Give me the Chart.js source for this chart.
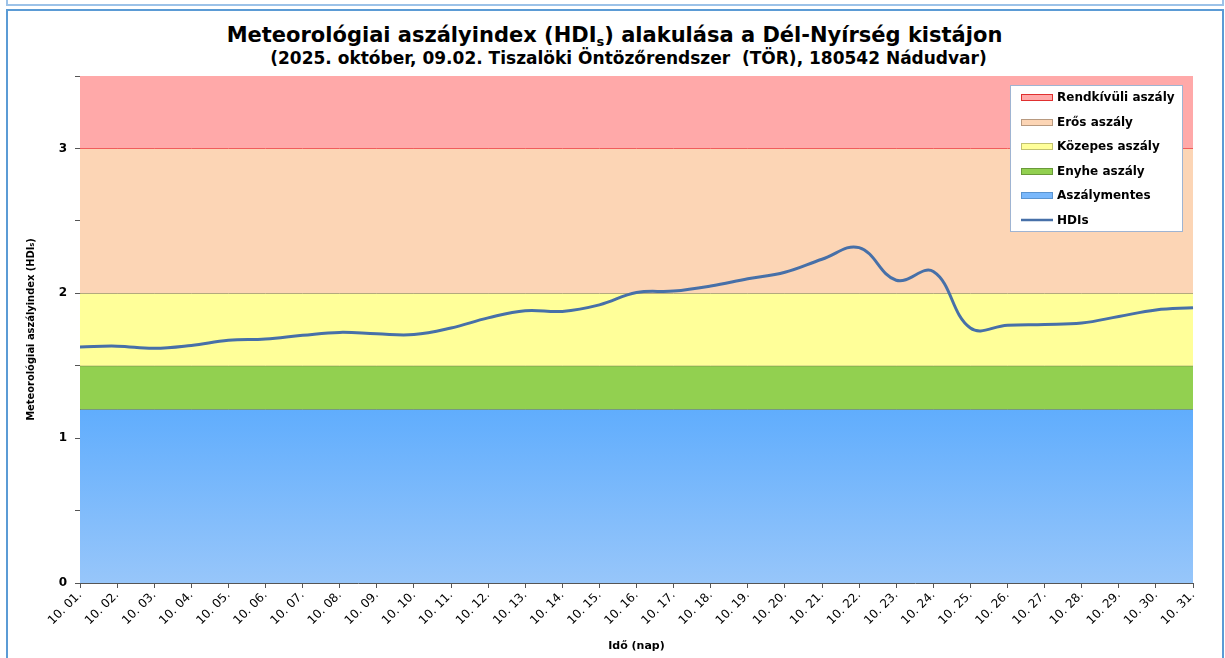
<!DOCTYPE html>
<html>
<head>
<meta charset="utf-8">
<script src="https://cdn.jsdelivr.net/npm/chart.js@4"></script>
<style>
  html, body { margin: 0; padding: 0; background: #fff; }
  body { width: 1225px; height: 658px; position: relative; overflow: hidden; }
  #prevBox { position: absolute; left: 6px; top: -20px; width: 1214px; height: 24px; border: 2px solid #9cc2e8; border-top: none; }
  #box { position: absolute; left: 6px; top: 9px; width: 1214px; height: 700px; border: 2px solid #5b9bd5; }
  #title, #subtitle { position: absolute; left: 0; width: 1225px; text-align: center; font-family: "DejaVu Sans", sans-serif; font-weight: bold; color: #000; white-space: nowrap; }
  #title { top: 23px; left: 2px; font-size: 21px; line-height: 24px; }
  #title sub { font-size: 13px; vertical-align: -4px; line-height: 0; }
  #subtitle { top: 48px; left: 16px; font-size: 17px; line-height: 20px; }
  canvas { position: absolute; left: 0; top: 0; }
</style>
</head>
<body>
<div id="prevBox"></div>
<div id="box"></div>
<div id="title">Meteorológiai aszályindex (HDI<sub>s</sub>) alakulása a Dél-Nyírség kistájon</div>
<div id="subtitle">(2025. október, 09.02. Tiszalöki Öntözőrendszer&nbsp; (TÖR), 180542 Nádudvar)</div>
<canvas id="hdiChart" width="1225" height="658"></canvas>
<script>
// napok (x tengely)
const days = ['10. 01.', '10. 02.', '10. 03.', '10. 04.', '10. 05.', '10. 06.', '10. 07.', '10. 08.',
    '10. 09.', '10. 10.', '10. 11.', '10. 12.', '10. 13.', '10. 14.', '10. 15.', '10. 16.',
    '10. 17.', '10. 18.', '10. 19.', '10. 20.', '10. 21.', '10. 22.', '10. 23.', '10. 24.',
    '10. 25.', '10. 26.', '10. 27.', '10. 28.', '10. 29.', '10. 30.', '10. 31.'];

// HDIs napi értékek
const hdiValues = [1.63, 1.635, 1.62, 1.64, 1.675, 1.685, 1.71, 1.73, 1.72, 1.715, 1.76,
    1.83, 1.88, 1.875, 1.92, 2.005, 2.015, 2.05, 2.10, 2.145, 2.235, 2.315, 2.09,
    2.15, 1.76, 1.78, 1.785, 1.795, 1.84, 1.885, 1.9];

// aszálykategóriák felső határai
const bandNames = ['Rendkívüli aszály', 'Erős aszály', 'Közepes aszály', 'Enyhe aszály', 'Aszálymentes'];
const bandTops = [3.5, 3, 2, 1.5, 1.2];

const yTicks = [0, 1, 2, 3];

const bandStyles = [
    { fill: '#ffa9a9', line: 'rgba(0,0,0,0)', swatchBorder: '#e03030' },
    { fill: '#fcd5b5', line: '#e00000', swatchBorder: '#b89a80' },
    { fill: '#ffff99', line: '#7f7f5a', swatchBorder: '#c2c270' },
    { fill: '#92d050', line: '#6a6a4a', swatchBorder: '#6a9a3a' },
    { fill: null, line: '#5a6a5a', swatchBorder: '#5a94d0' }
];

function blueGradient(context) {
    const chart = context.chart;
    const area = chart.chartArea;
    if (!area) return '#7ab8fc';
    const yScale = chart.scales.y;
    const g = chart.ctx.createLinearGradient(0, yScale.getPixelForValue(bandTops[4]), 0, area.bottom);
    g.addColorStop(0, '#60adfd');
    g.addColorStop(1, '#97c6fa');
    return g;
}

const datasets = bandNames.map(function (name, i) {
    const st = bandStyles[i];
    return {
        label: name,
        data: days.map(function () { return bandTops[i]; }),
        backgroundColor: st.fill === null ? blueGradient : st.fill,
        borderColor: st.line,
        borderWidth: i === 0 ? 0 : 1,
        pointRadius: 0,
        tension: 0,
        fill: i < 4 ? i + 1 : 'origin',
        order: 1,
        swatchFill: st.fill === null ? '#79b8fc' : st.fill,
        swatchBorder: st.swatchBorder
    };
});

datasets.push({
    label: 'HDIs',
    data: hdiValues,
    borderColor: '#4770a8',
    borderWidth: 3,
    pointRadius: 0,
    tension: 0.4,
    fill: false,
    order: 0,
    isLine: true
});

// jelmagyarázat a rajzterületen belül
const insideLegend = {
    id: 'insideLegend',
    afterDraw(chart) {
        const ctx = chart.ctx;
        const area = chart.chartArea;
        const w = 172, h = 146;
        const x = area.right - 183, y = area.top + 9;
        ctx.save();
        ctx.fillStyle = '#ffffff';
        ctx.fillRect(x, y, w, h);
        ctx.strokeStyle = '#9fb4d2';
        ctx.lineWidth = 1;
        ctx.strokeRect(x + 0.5, y + 0.5, w, h);
        ctx.font = 'bold 12px "DejaVu Sans"';
        ctx.textBaseline = 'middle';
        chart.data.datasets.forEach(function (ds, i) {
            const cy = Math.round(y + 12 + i * 24.6);
            if (ds.isLine) {
                ctx.strokeStyle = ds.borderColor;
                ctx.lineWidth = 2.5;
                ctx.beginPath();
                ctx.moveTo(x + 11, cy);
                ctx.lineTo(x + 43, cy);
                ctx.stroke();
            } else {
                ctx.fillStyle = ds.swatchFill;
                ctx.fillRect(x + 11, cy - 3, 32, 7);
                ctx.strokeStyle = ds.swatchBorder;
                ctx.lineWidth = 1;
                ctx.strokeRect(x + 11.5, cy - 2.5, 31, 6);
            }
            ctx.fillStyle = '#000';
            ctx.fillText(ds.label, x + 47, cy + 1);
        });
        ctx.restore();
    }
};

const chart = new Chart(document.getElementById('hdiChart'), {
    type: 'line',
    data: { labels: days, datasets: datasets },
    options: {
        responsive: false,
        animation: false,
        layout: { padding: { left: 8, right: 32, top: 76, bottom: 4 } },
        plugins: {
            legend: { display: false },
            tooltip: { enabled: false }
        },
        scales: {
            x: {
                type: 'category',
                offset: false,
                grid: { display: true, drawOnChartArea: false, drawTicks: true, tickLength: 5, color: '#555' },
                border: { display: true, color: '#555', width: 1 },
                ticks: {
                    color: '#000',
                    font: { family: '"DejaVu Sans"', size: 12 },
                    maxRotation: 45,
                    minRotation: 45,
                    autoSkip: false,
                    padding: 0
                },
                title: {
                    display: true,
                    text: 'Idő (nap)',
                    color: '#000',
                    font: { family: '"DejaVu Sans"', size: 11, weight: 'bold' },
                    padding: { top: 0, bottom: 1 }
                },
                afterFit(scale) { scale.height = 71; }
            },
            y: {
                min: 0,
                max: 3.5,
                grid: { display: true, drawOnChartArea: false, drawTicks: true, tickLength: 5, color: '#555' },
                border: { display: true, color: '#555', width: 1 },
                ticks: {
                    stepSize: 0.5,
                    color: '#000',
                    font: { family: '"DejaVu Sans"', size: 12, weight: 'bold' },
                    padding: 8,
                    callback: function (v) { return yTicks.includes(v) ? String(v) : ''; }
                },
                title: {
                    display: true,
                    text: 'Meteorológiai aszályindex (HDIₛ)',
                    color: '#000',
                    font: { family: '"DejaVu Sans Condensed", "DejaVu Sans"', size: 11, weight: 'bold' },
                    padding: { top: 17, bottom: 0 }
                },
                afterFit(scale) { scale.width = 72; }
            }
        }
    },
    plugins: [insideLegend]
});
</script>
</body>
</html>
